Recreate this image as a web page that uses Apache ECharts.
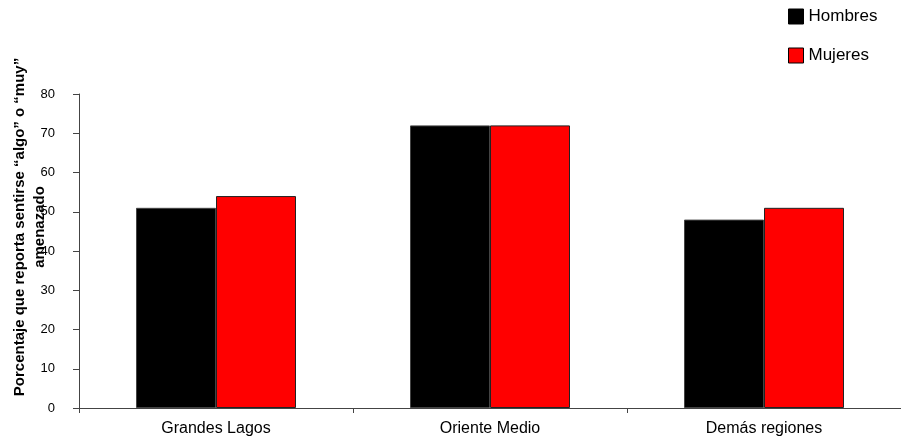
<!DOCTYPE html>
<html>
<head>
<meta charset="utf-8">
<script src="https://cdn.jsdelivr.net/npm/echarts@6/dist/echarts.min.js"></script>
<style>
  html, body { margin: 0; padding: 0; background: #fff; }
  #chart { width: 901px; height: 441px; }
</style>
</head>
<body>
<div id="chart"></div>
<script>
// Regions and percentages by sex
const regions = ['Grandes Lagos', 'Oriente Medio', 'Demás regiones'];
const hombres = [51, 72, 48];
const mujeres = [54, 72, 51];
const yTicks = [0, 10, 20, 30, 40, 50, 60, 70, 80];

const FONT = '"Liberation Sans", Arial, sans-serif';

const chart = echarts.init(document.getElementById('chart'), null, { renderer: 'canvas' });

chart.setOption({
  backgroundColor: '#ffffff',
  animation: false,
  textStyle: { fontFamily: FONT },
  legend: {
    orient: 'vertical',
    left: 783,
    top: 3,
    itemWidth: 15,
    itemHeight: 15,
    itemGap: 22,
    icon: 'rect',
    textStyle: { fontFamily: FONT, fontSize: 17, color: '#000' },
    data: [
      { name: 'Hombres', itemStyle: { borderColor: '#000', borderWidth: 1 } },
      { name: 'Mujeres', itemStyle: { borderColor: '#000', borderWidth: 1 } }
    ]
  },
  graphic: [{
    type: 'text',
    x: 30,
    y: 227,
    rotation: Math.PI / 2,
    style: {
      text: 'Porcentaje que reporta sentirse “algo” o “muy”\namenazado',
      font: 'bold 15px ' + FONT,
      fill: '#000',
      align: 'center',
      verticalAlign: 'middle',
      lineHeight: 20
    }
  }],
  grid: { left: 79, right: -10, top: 94, bottom: 33, containLabel: false },
  xAxis: {
    type: 'category',
    data: regions,
    boundaryGap: true,
    axisLine: { lineStyle: { color: '#444', width: 1 } },
    axisTick: { show: true, length: 5, lineStyle: { color: '#444' } },
    axisLabel: { fontFamily: FONT, fontSize: 16, color: '#000', margin: 13 }
  },
  yAxis: {
    type: 'value',
    min: yTicks[0],
    max: yTicks[yTicks.length - 1],
    interval: 10,
    axisLine: { show: true, lineStyle: { color: '#444', width: 1 } },
    axisTick: { show: true, length: 6, lineStyle: { color: '#444' } },
    splitLine: { show: false },
    axisLabel: { fontFamily: FONT, fontSize: 13, color: '#000', margin: 24 }
  },
  series: [
    {
      name: 'Hombres',
      type: 'bar',
      data: hombres,
      barWidth: 80,
      barGap: '0%',
      itemStyle: { color: '#000000', borderColor: '#444', borderWidth: 1 }
    },
    {
      name: 'Mujeres',
      type: 'bar',
      data: mujeres,
      barWidth: 80,
      barGap: '0%',
      itemStyle: { color: '#ff0000', borderColor: '#222', borderWidth: 1 }
    }
  ]
});
</script>
</body>
</html>
